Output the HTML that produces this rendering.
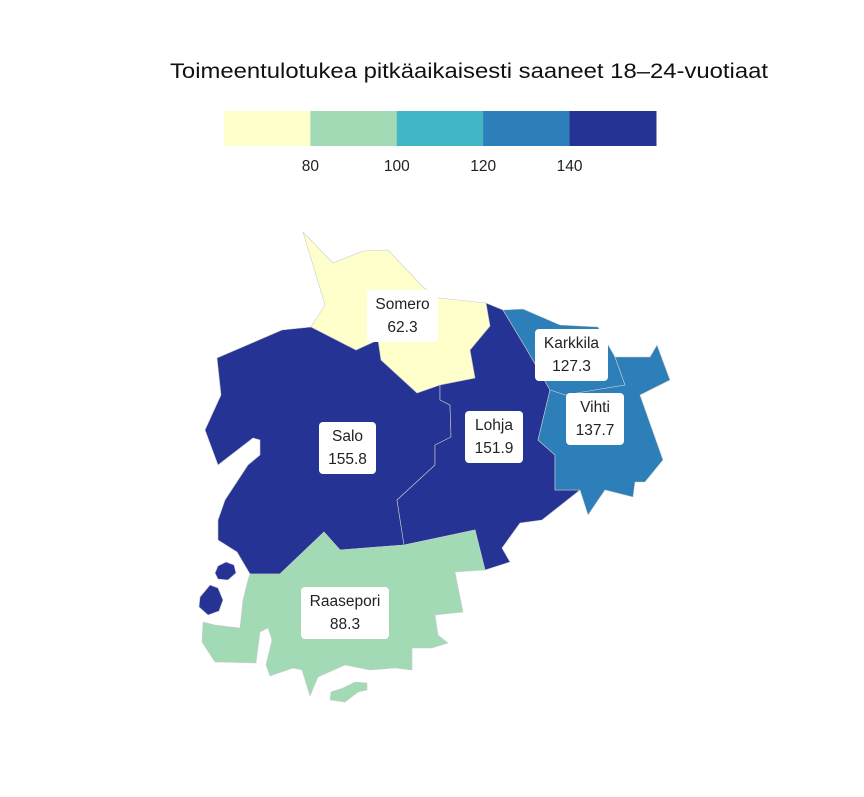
<!DOCTYPE html>
<html><head><meta charset="utf-8"><style>
body{margin:0;background:#fff;font-family:"Liberation Sans",sans-serif}
#c{position:relative;width:864px;height:792px}
.lbl{position:absolute;background:#fff;border-radius:4px;text-align:center;font-size:15.5px;line-height:23px;color:#222;padding:3px 0}
</style></head><body>
<div id="c">
<svg width="864" height="792" id="svg">
<text x="469" y="78" text-anchor="middle" font-size="21" textLength="598" lengthAdjust="spacingAndGlyphs" fill="#111">Toimeentulotukea pitkäaikaisesti saaneet 18–24-vuotiaat</text>
<g id="legend"></g>
<g id="regions"></g>
</svg>
</div>
<script>
const regions=["Somero","Salo","Lohja","Karkkila","Vihti","Raasepori"];
const values=[62.3,155.8,151.9,127.3,137.7,88.3];
const breaks=[80,100,120,140];
const colors=["#ffffcc","#a1dab4","#41b6c4","#2c7fb8","#253494"];
const shapes={
Somero:["303,232 333,263 363,251 388,250 423,287 439,298 486,303 490,326 470,350 475,378 440,385 417,393 381,360 378,340 356,350 311,327 325,305"],
Salo:["311,327 356,350 378,340 381,360 417,393 440,385 440,400 450,405 451,437 435,445 435,465 397,500 404,545 340,550 324,532 280,574 250,574 237,552 218,540 218,520 225,500 248,465 260,455 260,440 253,438 218,465 205,430 221,395 217,358 282,330",
"218,566 226,562 234,565 236,573 228,580 218,579 215,573","200,597 210,585 218,588 223,600 219,611 208,615 199,607"],
Lohja:["440,385 475,378 470,350 490,326 486,303 503,310 527,350 550,390 538,440 555,455 555,490 580,490 542,520 520,523 502,548 510,562 485,570 475,530 404,545 397,500 435,465 435,445 451,437 450,405 440,400"],
Karkkila:["503,310 523,309 560,325 598,327 615,357 625,385 565,395 550,390 527,350"],
Vihti:["550,390 565,395 625,385 615,357 650,357 657,345 670,380 640,395 663,460 645,482 635,482 633,497 605,490 588,515 580,490 555,490 555,455 538,440"],
Raasepori:["250,574 280,574 324,532 340,550 404,545 475,530 485,570 455,572 463,612 435,615 438,635 448,643 432,648 412,648 412,670 395,668 370,670 345,665 318,677 310,696 302,670 293,668 270,676 266,665 272,640 268,628 260,632 256,663 215,662 202,642 203,622 215,625 240,628 243,600 248,580",
"330,700 345,702 358,692 367,690 367,683 355,682 343,688 331,692"]};
const boxes={Somero:[367,290,71],Karkkila:[535,329,73],Salo:[319,422,57],Lohja:[465,411,58],Vihti:[566,393,58],Raasepori:[301,587,88]};
const NS="http://www.w3.org/2000/svg";
function colorOf(v){let i=0;while(i<breaks.length&&v>=breaks[i])i++;return colors[i];}
const lg=document.getElementById('legend');
const lx=224,lw=86.4,ly=111,lh=35;
colors.forEach((c,i)=>{const r=document.createElementNS(NS,'rect');
r.setAttribute('x',lx+i*lw);r.setAttribute('y',ly);r.setAttribute('width',lw+0.5);r.setAttribute('height',lh);r.setAttribute('fill',c);


lg.appendChild(r);});
breaks.forEach((b,i)=>{const t=document.createElementNS(NS,'text');
t.setAttribute('x',lx+(i+1)*lw);t.setAttribute('y',171);t.setAttribute('text-anchor','middle');t.setAttribute('font-size','15.5');t.setAttribute('fill','#222');t.textContent=b;


lg.appendChild(t);});
const rg=document.getElementById('regions');const c=document.getElementById('c');
regions.forEach((n,i)=>{shapes[n].forEach(p=>{const pg=document.createElementNS(NS,'polygon');
pg.setAttribute('points',p);pg.setAttribute('fill',colorOf(values[i]));pg.setAttribute('stroke','#ccc');pg.setAttribute('stroke-width','0.6');


rg.appendChild(pg);});
const b=boxes[n];const d=document.createElement('div');d.className='lbl';
d.style.left=b[0]+'px';d.style.top=b[1]+'px';d.style.width=b[2]+'px';
d.innerHTML=n+'<br>'+values[i].toFixed(1);


c.appendChild(d);});
</script>
</body></html>
